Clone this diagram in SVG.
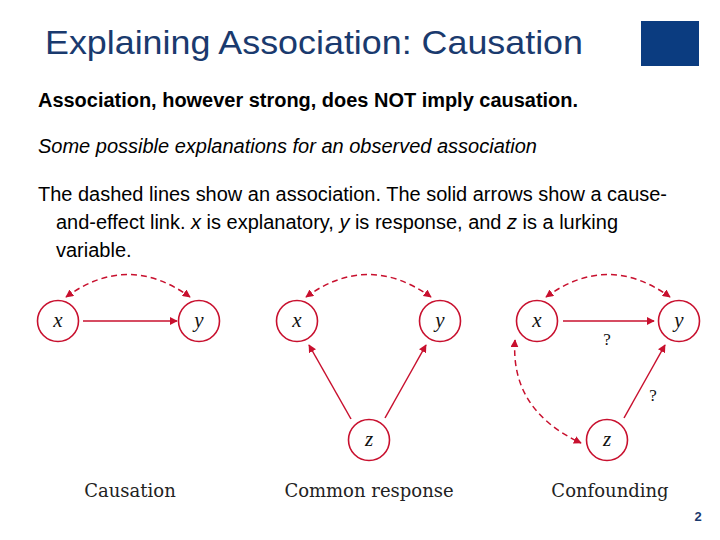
<svg xmlns="http://www.w3.org/2000/svg" width="720" height="540" viewBox="0 0 720 540">
<style>
.t{font-family:"Liberation Sans",Arial,sans-serif;fill:#000;font-size:20px}
.n circle{fill:#fff;stroke:#C8102E;stroke-width:1.6}
.n text{font-family:"Liberation Serif","Times New Roman",serif;font-style:italic;font-size:21px;fill:#111;text-anchor:middle}
.c path{fill:none;stroke:#C8102E;stroke-width:1.5}
.c .d{stroke-dasharray:6 4}
.lab{font-family:"DejaVu Serif","Liberation Serif",serif;font-size:18px;fill:#222;text-anchor:middle}
.q{font-family:"Liberation Serif",serif;font-size:17px;fill:#111;text-anchor:middle}
</style>
<defs>
<marker id="ah" viewBox="0 0 10 10" refX="9" refY="5" markerWidth="8" markerHeight="8" markerUnits="userSpaceOnUse" orient="auto-start-reverse">
<path d="M0,0 L10,5 L0,10 z" fill="#C8102E"/>
</marker>
</defs>
<rect width="720" height="540" fill="#fff"/>
<text x="45" y="54" font-family="Liberation Sans,Arial,sans-serif" font-size="34" fill="#1A3A6E" textLength="538" lengthAdjust="spacingAndGlyphs">Explaining Association: Causation</text>
<rect x="641" y="21" width="58" height="45" fill="#0B3C80"/>
<text class="t" x="38" y="107" font-weight="bold" textLength="540" lengthAdjust="spacingAndGlyphs">Association, however strong, does NOT imply causation.</text>
<text class="t" x="38" y="153" font-style="italic" textLength="499" lengthAdjust="spacingAndGlyphs">Some possible explanations for an observed association</text>
<text class="t" x="38" y="201" textLength="629" lengthAdjust="spacingAndGlyphs">The dashed lines show an association. The solid arrows show a cause-</text>
<text class="t" x="56" y="229" textLength="562" lengthAdjust="spacingAndGlyphs">and-effect link. <tspan font-style="italic">x</tspan> is explanatory, <tspan font-style="italic">y</tspan> is response, and <tspan font-style="italic">z</tspan> is a lurking</text>
<text class="t" x="56" y="257">variable.</text>
<g class="c">
<path class="d" d="M66,297 Q128,252 190,297" marker-start="url(#ah)" marker-end="url(#ah)"/>
<path d="M83,321 L177,321" marker-end="url(#ah)"/>
<path class="d" d="M306,297 Q368,252 431,297" marker-start="url(#ah)" marker-end="url(#ah)"/>
<path d="M351,419 L309,345" marker-end="url(#ah)"/>
<path d="M385,418 L426,345" marker-end="url(#ah)"/>
<path class="d" d="M546,297 Q608,252 670,297" marker-start="url(#ah)" marker-end="url(#ah)"/>
<path d="M563,321 L654,321" marker-end="url(#ah)"/>
<path d="M624,418 L665,345" marker-end="url(#ah)"/>
<path class="d" d="M515,340 Q510,410 581,443" marker-start="url(#ah)" marker-end="url(#ah)"/>
</g>
<g id="n1x" class="n"><circle cx="58" cy="321" r="20.5"/><text x="58" y="327">x</text></g>
<g id="n1y" class="n"><circle cx="199" cy="321" r="20.5"/><text x="199" y="327">y</text></g>
<g id="n2x" class="n"><circle cx="297" cy="321" r="20.5"/><text x="297" y="327">x</text></g>
<g id="n2y" class="n"><circle cx="440" cy="321" r="20.5"/><text x="440" y="327">y</text></g>
<g id="n2z" class="n"><circle cx="369" cy="440" r="20.5"/><text x="369" y="446">z</text></g>
<g id="n3x" class="n"><circle cx="537" cy="321" r="20.5"/><text x="537" y="327">x</text></g>
<g id="n3y" class="n"><circle cx="679" cy="321" r="20.5"/><text x="679" y="327">y</text></g>
<g id="n3z" class="n"><circle cx="607" cy="440" r="20.5"/><text x="607" y="446">z</text></g>
<text class="q" x="607" y="345">?</text>
<text class="q" x="653" y="401">?</text>
<text class="lab" x="130" y="497">Causation</text>
<text class="lab" x="369" y="497">Common response</text>
<text class="lab" x="610" y="497">Confounding</text>
<text x="698" y="521" font-family="Liberation Sans,Arial,sans-serif" font-weight="bold" font-size="13" fill="#1A3A6E" text-anchor="middle">2</text>
</svg>
